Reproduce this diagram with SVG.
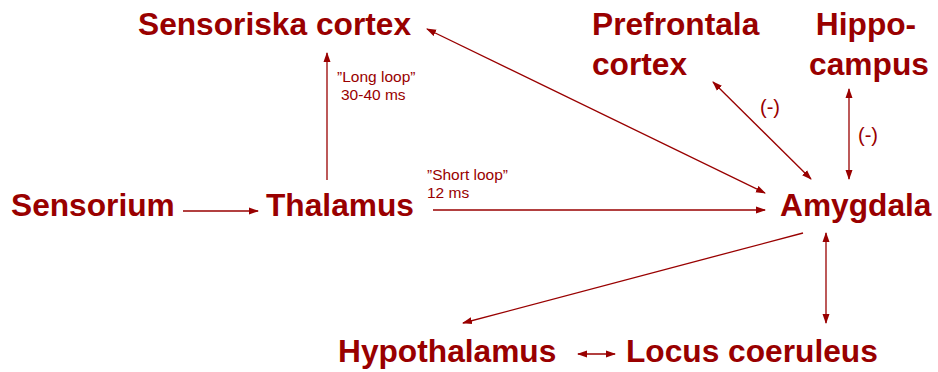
<svg xmlns="http://www.w3.org/2000/svg" width="938" height="372" viewBox="0 0 938 372">
<style>
.n{font-family:"Liberation Sans",Arial,sans-serif;font-weight:bold;font-size:31.7px;fill:#990000}
.s{font-family:"Liberation Sans",Arial,sans-serif;font-size:15.5px;fill:#990000}
.m{font-family:"Liberation Sans",Arial,sans-serif;font-size:20px;fill:#990000;text-anchor:middle}
.c{stroke:#990000;stroke-width:1.3;fill:none}
</style>
<defs>
<marker id="ah" markerUnits="userSpaceOnUse" markerWidth="10" markerHeight="8" refX="9" refY="3.5" orient="auto-start-reverse" viewBox="0 0 10 7">
<path d="M0,0 L10,3.5 L0,7 z" fill="#990000"/>
</marker>
</defs>
<rect width="938" height="372" fill="#ffffff"/>
<g id="connectors">
<line class="c" x1="183" y1="211" x2="258" y2="211" marker-end="url(#ah)"/>
<line class="c" x1="327" y1="180" x2="327" y2="53" marker-end="url(#ah)"/>
<line class="c" x1="433" y1="210" x2="765" y2="210" marker-end="url(#ah)"/>
<line class="c" x1="427" y1="29" x2="765" y2="193" marker-start="url(#ah)" marker-end="url(#ah)"/>
<line class="c" x1="713" y1="82" x2="811" y2="179" marker-start="url(#ah)" marker-end="url(#ah)"/>
<line class="c" x1="849" y1="89" x2="849" y2="179" marker-start="url(#ah)" marker-end="url(#ah)"/>
<line class="c" x1="803" y1="233" x2="463" y2="323" marker-end="url(#ah)"/>
<line class="c" x1="826" y1="233" x2="826" y2="323" marker-start="url(#ah)" marker-end="url(#ah)"/>
<line class="c" x1="578" y1="354" x2="615" y2="354" marker-start="url(#ah)" marker-end="url(#ah)"/>
<text class="s" x="337" y="82">”Long loop”</text>
<text class="s" x="341" y="100">30-40 ms</text>
<text class="s" x="427" y="180">”Short loop”</text>
<text class="s" x="427" y="198">12 ms</text>
<text class="m" x="770" y="114">(-)</text>
<text class="m" x="868" y="142">(-)</text>
</g>
<g id="sensorium"><text class="n" x="11" y="216">Sensorium</text></g>
<g id="thalamus"><text class="n" x="266" y="216">Thalamus</text></g>
<g id="sensoriska-cortex"><text class="n" x="138" y="35">Sensoriska cortex</text></g>
<g id="prefrontala-cortex"><text class="n" x="592" y="35">Prefrontala</text><text class="n" x="592" y="75">cortex</text></g>
<g id="hippocampus"><text class="n" x="866" y="35" text-anchor="middle">Hippo-</text><text class="n" x="869" y="75" text-anchor="middle">campus</text></g>
<g id="amygdala"><text class="n" x="780" y="216">Amygdala</text></g>
<g id="hypothalamus"><text class="n" x="338" y="362">Hypothalamus</text></g>
<g id="locus-coeruleus"><text class="n" x="626" y="362">Locus coeruleus</text></g>
</svg>
